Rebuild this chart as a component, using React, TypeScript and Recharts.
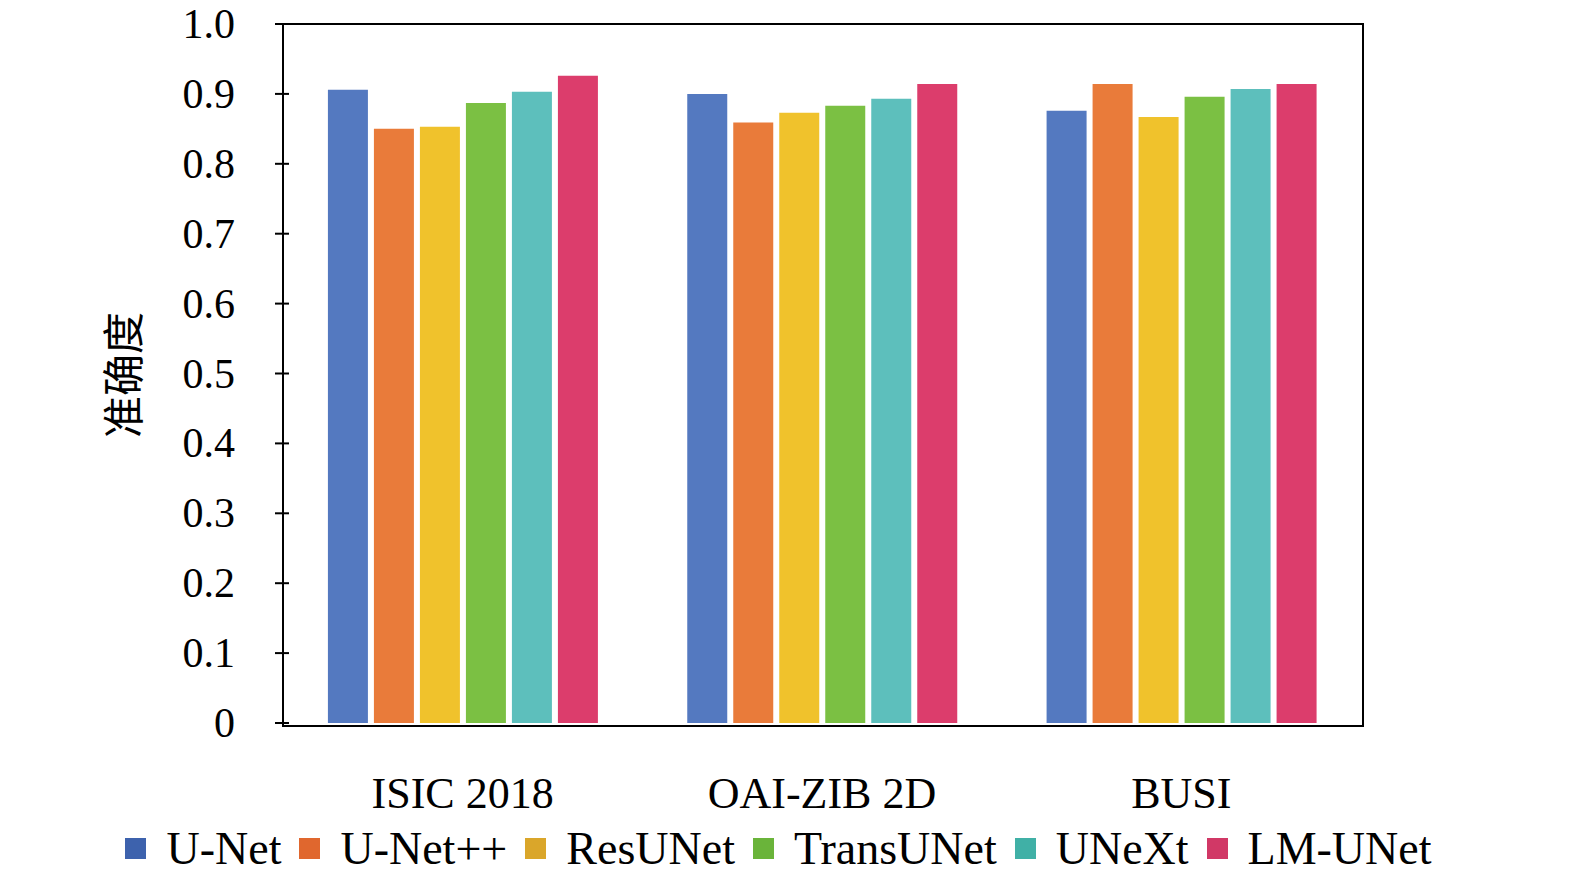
import React from "react";
import { BarChart, Bar, XAxis, YAxis } from "recharts";

const categories = ["ISIC 2018", "OAI-ZIB 2D", "BUSI"];
const unet = [0.906, 0.900, 0.876];
const unetpp = [0.850, 0.859, 0.914];
const resunet = [0.853, 0.873, 0.867];
const transunet = [0.887, 0.883, 0.896];
const unext = [0.903, 0.893, 0.907];
const lmunet = [0.926, 0.914, 0.914];
const yTicks = [0, 0.1, 0.2, 0.3, 0.4, 0.5, 0.6, 0.7, 0.8, 0.9, 1.0];

const series = [
  { key: "U-Net", vals: unet, color: "#5479c0", legend: "#3d62ad" },
  { key: "U-Net++", vals: unetpp, color: "#e97b3a", legend: "#e0672e" },
  { key: "ResUNet", vals: resunet, color: "#f0c22c", legend: "#daa62a" },
  { key: "TransUNet", vals: transunet, color: "#7bc043", legend: "#6ab43a" },
  { key: "UNeXt", vals: unext, color: "#5dbfbc", legend: "#40b0a6" },
  { key: "LM-UNet", vals: lmunet, color: "#dc3d6c", legend: "#d13866" },
];

const data = categories.map((c, i) => {
  const row: any = { name: c };
  series.forEach((s) => (row[s.key] = s.vals[i]));
  return row;
});

const font = "'Liberation Serif', 'Times New Roman', serif";

const YTick = (props: any) => {
  const { x, y, payload } = props;
  const v = payload.value;
  const label = v === 0 ? "0" : v.toFixed(1);
  return (
    <g>
      <line x1={x} x2={x + 14} y1={y} y2={y} stroke="#000" strokeWidth={2} />
      <text x={x - 40} y={y} textAnchor="end" dominantBaseline="central" fontFamily={font} fontSize={42} fill="#000">
        {label}
      </text>
    </g>
  );
};

export default function App() {
  return (
    <div style={{ position: "absolute", left: 0, top: 0, width: 1575, height: 890, background: "#fff" }}>
      <BarChart width={1575} height={890} data={data} margin={{ top: 24, right: 214, bottom: 166, left: 282 }} barCategoryGap="12.5%" barGap={6}>
        <XAxis dataKey="name" height={1} axisLine={false} tickLine={false} tick={{ fontFamily: font, fontSize: 44, fill: "#000" }} tickMargin={48} />
        <YAxis domain={[0, 1]} ticks={yTicks} width={1} axisLine={false} tickLine={false} tick={<YTick />} interval={0} />
        {series.map((s) => (
          <Bar key={s.key} dataKey={s.key} fill={s.color} isAnimationActive={false} />
        ))}
      </BarChart>
      <div style={{ position: "absolute", left: 282, top: 23, width: 1078, height: 700, border: "2px solid #000", pointerEvents: "none" }} />
      <div style={{ position: "absolute", left: 0, width: 1575, top: 822, display: "flex", justifyContent: "center", alignItems: "center", fontFamily: font, fontSize: 46, color: "#000" }}>
        {series.map((s) => (
          <div key={s.key} style={{ display: "flex", alignItems: "center", marginRight: 18 }}>
            <div style={{ width: 21, height: 21, background: s.legend, marginRight: 20 }} />
            <span>{s.key}</span>
          </div>
        ))}
      </div>
      <div style={{ position: "absolute", left: 120, top: 375, transform: "translate(-50%,-50%) rotate(-90deg)", fontFamily: "'Noto Sans CJK SC'", fontSize: 42, color: "#000", whiteSpace: "nowrap" }}>
        准确度
      </div>
    </div>
  );
}
